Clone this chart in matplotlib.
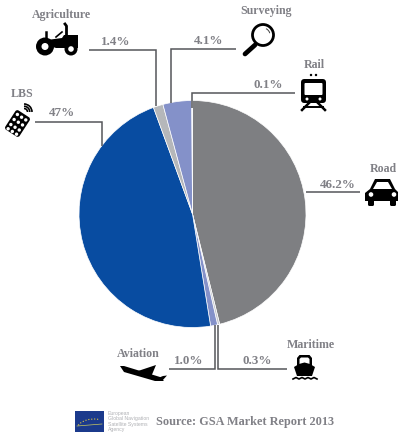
# -*- coding: utf-8 -*-
# GNSS market share by segment, pie with leader lines and segment icons

import numpy as np
import matplotlib
matplotlib.use("Agg")
import matplotlib.pyplot as plt
from matplotlib.patches import Circle, Rectangle, Polygon, FancyBboxPatch, Arc
from matplotlib.transforms import Affine2D

segments = ["Road", "Maritime", "Aviation", "LBS", "Agriculture", "Surveying", "Rail"]
shares = [46.2, 0.3, 1.0, 47, 1.4, 4.1, 0.1]
share_labels = ["46.2%", "0.3%", "1.0%", "47%", "1.4%", "4.1%", "0.1%"]
colors = ["#7e7f82", "#c4c6cc", "#8491c9", "#084ca1", "#b5b7ba", "#8491c9", "#c9d0e0"]

W, H = 398, 433
TXT = "#808086"
LINE = "#55565a"
serif = "Liberation Serif"

fig = plt.figure(figsize=(W / 100, H / 100), dpi=100)

# pie gets its own axes, the rest is drawn on a pixel-sized overlay
cx, cy, r = 192.5, 214, 113.5
pie_ax = fig.add_axes([(cx - r) / W, (H - cy - r) / H, 2 * r / W, 2 * r / H])
pie_ax.pie(shares, colors=colors, startangle=90, counterclock=False, radius=1,
           wedgeprops=dict(edgecolor="white", linewidth=0.5))
pie_ax.set_xlim(-1, 1)
pie_ax.set_ylim(-1, 1)
pie_ax.axis("off")

ax = fig.add_axes([0, 0, 1, 1])
ax.set_xlim(0, W)
ax.set_ylim(H, 0)
ax.axis("off")
ax.patch.set_alpha(0)


def leader(xs, ys):
    ax.plot(xs, ys, color=LINE, lw=1.1, solid_joinstyle="miter", solid_capstyle="butt")


leader([89, 156, 156], [50, 50, 106])
leader([171, 171, 236], [103, 49, 49])
leader([192, 192, 295], [108, 93, 93])
leader([306, 360], [192, 192])
leader([35, 102, 102], [122, 122, 146])
leader([169, 215, 215], [369, 369, 325])
leader([287, 218, 218], [369, 369, 325])

# segment names
name_pos = [(383.5, 169), (311, 345), (138, 354), (22, 94), (61, 15), (266, 11), (314, 65)]
for name, (x, y) in zip(segments, name_pos):
    ax.text(x, y, name, family=serif, weight="bold", fontsize=8.6, color=TXT,
            ha="center", va="center")

# share values
value_pos = [(338, 185), (257, 361), (189, 361), (62, 113), (116, 42), (209, 41), (268, 85)]
for lab, (x, y) in zip(share_labels, value_pos):
    ax.text(x, y, lab, family=serif, weight="bold", fontsize=9.4, color=TXT,
            ha="center", va="center")


def poly(pts, color="black", **kw):
    ax.add_patch(Polygon(pts, closed=True, facecolor=color, edgecolor="none", **kw))


def disc(x, y, rad, color="black"):
    ax.add_patch(Circle((x, y), rad, facecolor=color, edgecolor="none"))


def rbox(x0, y0, w, h, rad, color="black", **kw):
    ax.add_patch(FancyBboxPatch((x0 + rad, y0 + rad), w - 2 * rad, h - 2 * rad,
                                boxstyle="round,pad=%g,rounding_size=%g" % (rad, rad),
                                facecolor=color, edgecolor="none", **kw))


# tractor
poly([(47, 40), (62, 38), (64, 35), (78, 35), (78, 48), (56, 48), (50, 46)])
ax.plot([66.5, 66.5, 65], [36, 26, 24], color="black", lw=2)
ax.plot([46, 46], [40, 32], color="black", lw=1.8)
ax.plot([56, 62], [37, 32], color="black", lw=1.2)
disc(45, 46.5, 9)
disc(45, 46.5, 3.5, "white")
disc(71, 49, 6.5)
disc(71, 49, 2.8, "white")

# phone / remote with signal arcs
tilt = Affine2D().rotate_deg_around(17.5, 123.5, 33) + ax.transData
ax.add_patch(FancyBboxPatch((10.5, 113.5), 14, 20, boxstyle="round,pad=1.5,rounding_size=2.5",
                            facecolor="black", edgecolor="none", transform=tilt))
for row in [116, 122, 128, 133]:
    for col in [12.5, 17.5, 22.5]:
        ax.add_patch(Circle((col, row), 1.7, facecolor="white", edgecolor="none", transform=tilt))
for d in [7, 11.5, 16]:
    ax.add_patch(Arc((24, 112), d, d, theta1=-90, theta2=0, color="black", lw=1.2))

# magnifier
ax.add_patch(Circle((263, 35), 10.5, facecolor="white", edgecolor="black", lw=2))
ax.add_patch(Arc((263, 35), 14, 14, theta1=-65, theta2=-15, color="#444444", lw=0.7))
ax.plot([245, 255], [54, 45], color="black", lw=3.4, solid_capstyle="round")

# train
rbox(301, 79, 25, 24, 3.5)
rbox(304.5, 83, 18, 12, 1, color="white")
disc(311, 75, 1.2)
disc(316, 75, 1.2)
disc(307, 99, 1.5, "white")
disc(320, 99, 1.5, "white")
ax.plot([302, 309], [110, 103], color="black", lw=1.8)
ax.plot([325, 318], [110, 103], color="black", lw=1.8)
ax.plot([304, 323], [107, 107], color="black", lw=1.4)

# car
poly([(370, 189), (375, 179), (390, 179), (395, 189), (398, 192), (398, 201), (365, 201), (365, 193)])
poly([(373, 189), (377, 182), (388, 182), (392, 189)], color="white")
rbox(368, 199, 6, 7, 1.5)
rbox(390, 199, 6, 7, 1.5)
disc(371, 194.5, 2.3, "white")
disc(394, 194.5, 2.3, "white")

# ship
poly([(297, 368), (297, 358), (299.5, 355), (309.5, 355), (312, 358), (312, 368)])
poly([(299.5, 366), (299.5, 359), (301, 357.5), (308, 357.5), (309.5, 359), (309.5, 366)], color="white")
poly([(294, 367), (299, 364), (304.5, 362.5), (310, 364), (315, 367), (312, 376), (297, 376)])
wave_x = np.array([293, 296, 299, 302, 305, 308, 311, 314, 317])
wave_y = np.array([379, 377.5, 379, 377.5, 379, 377.5, 379, 377.5, 379])
ax.plot(wave_x, wave_y, color="black", lw=1.2)

# plane
poly([(120, 366), (124, 366), (160, 377), (164, 381), (155, 381), (124, 372)])
poly([(138, 371), (150, 367), (156, 365), (151, 377), (146, 378)])
poly([(158, 378), (163, 376), (167, 375.5), (162, 381)])

# agency logo and source line
ax.add_patch(Rectangle((75, 411), 29, 21, facecolor="#1b3a8c", edgecolor="none"))
ax.add_patch(Arc((94, 431), 36, 24, theta1=200, theta2=290, color="#e0c840", lw=0.8, ls=":"))
ax.plot([77, 102], [426, 424], color="#c8c860", lw=0.5)
logo_lines = ["European", "Global Navigation", "Satellite Systems", "Agency"]
for i, s in enumerate(logo_lines):
    ax.text(108, 413 + i * 5.6, s, fontsize=3.7, color="#b0b1b5", family="Liberation Sans",
            ha="left", va="center")
ax.text(156, 422, "Source: GSA Market Report 2013", family=serif, weight="bold",
        fontsize=8.8, color=TXT, ha="left", va="center")

fig.savefig("out.png", dpi=100)
